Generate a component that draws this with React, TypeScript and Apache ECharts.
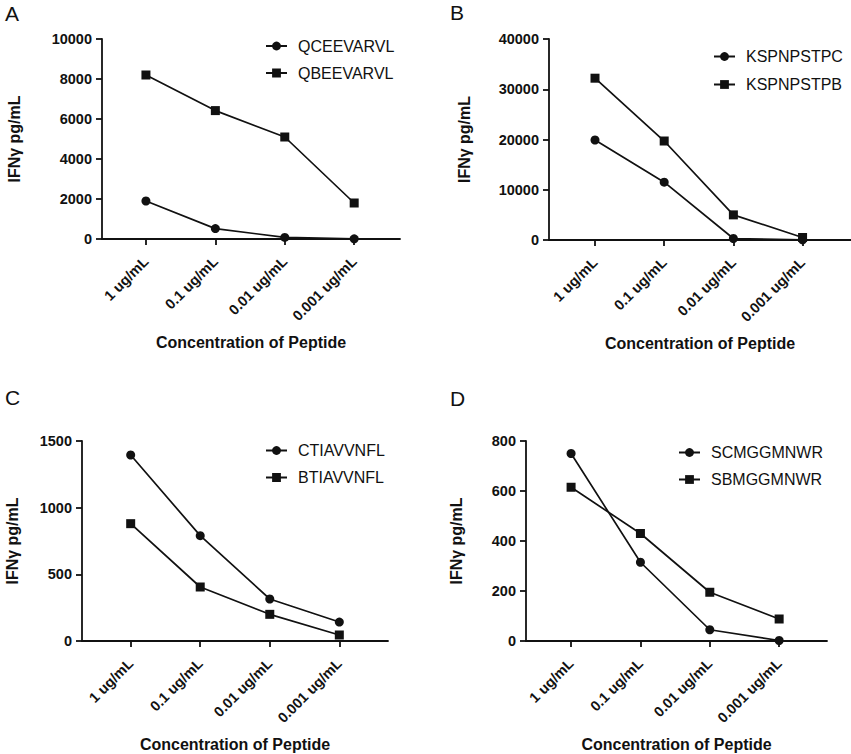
import React, { useEffect, useRef } from "react";
import * as echarts from "echarts";

const concentrations = ["1 ug/mL", "0.1 ug/mL", "0.01 ug/mL", "0.001 ug/mL"];

const namesA = ["QCEEVARVL", "QBEEVARVL"];
const circleA = [1900, 520, 80, 10];
const squareA = [8200, 6420, 5100, 1800];

const namesB = ["KSPNPSTPC", "KSPNPSTPB"];
const circleB = [19900, 11500, 300, 50];
const squareB = [32200, 19700, 5000, 500];

const namesC = ["CTIAVVNFL", "BTIAVVNFL"];
const circleC = [1395, 790, 315, 142];
const squareC = [880, 405, 200, 45];

const namesD = ["SCMGGMNWR", "SBMGGMNWR"];
const circleD = [750, 315, 45, 2];
const squareD = [615, 430, 195, 88];

const yMaxes = [10000, 40000, 1500, 800];
const yIntervals = [2000, 10000, 500, 200];
const panelLetters = ["A", "B", "C", "D"];

const yName = "IFNγ pg/mL";
const xName = "Concentration of Peptide";

const FONT = "'Liberation Sans', Arial, Helvetica, sans-serif";
const INK = "#111111";

export default function App() {
  const ref = useRef<HTMLDivElement>(null);

  useEffect(() => {
    if (!ref.current) return;
    const chart = echarts.init(ref.current, null, { renderer: "svg" });

    const panels = [
      { names: namesA, circle: circleA, square: squareA, grid: { left: 102, top: 39, width: 298, height: 200 }, xMin: -0.633, xMax: 3.66, yGap: 80, legend: { left: 265, top: 37, gap: 9 }, letter: { left: 5, top: 3 } },
      { names: namesB, circle: circleB, square: squareB, grid: { left: 549, top: 39, width: 302, height: 201 }, xMin: -0.665, xMax: 3.7, yGap: 77, legend: { left: 713, top: 47.5, gap: 10 }, letter: { left: 450, top: 2 } },
      { names: namesC, circle: circleC, square: squareC, grid: { left: 82, top: 441, width: 306, height: 200 }, xMin: -0.7, xMax: 3.7, yGap: 62, legend: { left: 265, top: 441.5, gap: 9 }, letter: { left: 5, top: 387 } },
      { names: namesD, circle: circleD, square: squareD, grid: { left: 526, top: 441, width: 301, height: 200 }, xMin: -0.65, xMax: 3.69, yGap: 62, legend: { left: 678, top: 443.5, gap: 9 }, letter: { left: 450, top: 388 } },
    ];

    const idx = concentrations.map((_, i) => i);

    const option: any = {
      animation: false,
      backgroundColor: "#ffffff",
      textStyle: { fontFamily: FONT },
      title: panels.map((p, i) => ({
        text: panelLetters[i],
        left: p.letter.left,
        top: p.letter.top,
        padding: 0,
        textStyle: { fontFamily: FONT, fontSize: 21, fontWeight: "normal", color: INK },
      })),
      grid: panels.map((p) => ({ ...p.grid, containLabel: false })),
      legend: panels.map((p) => ({
        data: p.names,
        orient: "vertical",
        left: p.legend.left,
        top: p.legend.top,
        padding: 0,
        itemGap: p.legend.gap,
        itemWidth: 21,
        itemHeight: 11,
        selectedMode: false,
        textStyle: { fontFamily: FONT, fontSize: 16, color: INK, lineHeight: 18, padding: [0, 0, 0, 6] },
      })),
      xAxis: panels.map((p, i) => ({
        type: "value",
        gridIndex: i,
        min: p.xMin,
        max: p.xMax,
        name: xName,
        nameLocation: "middle",
        nameGap: 95,
        nameTextStyle: { fontFamily: FONT, fontSize: 16, fontWeight: "bold", color: INK },
        splitLine: { show: false },
        axisLine: { show: true, lineStyle: { color: INK, width: 1.8 } },
        axisTick: { show: true, length: 6, customValues: idx, lineStyle: { color: INK, width: 1.8 } },
        axisLabel: {
          customValues: idx,
          rotate: 45,
          margin: 20,
          fontFamily: FONT,
          fontSize: 14.5,
          fontWeight: "bold",
          color: INK,
          formatter: (v: number) => concentrations[Math.round(v)] ?? "",
        },
      })),
      yAxis: panels.map((p, i) => ({
        type: "value",
        gridIndex: i,
        min: 0,
        max: yMaxes[i],
        interval: yIntervals[i],
        name: yName,
        nameLocation: "middle",
        nameGap: p.yGap,
        nameTextStyle: { fontFamily: FONT, fontSize: 16, fontWeight: "bold", color: INK },
        splitLine: { show: false },
        axisLine: { show: true, onZero: false, lineStyle: { color: INK, width: 1.8 } },
        axisTick: { show: true, length: 6, lineStyle: { color: INK, width: 1.8 } },
        axisLabel: {
          margin: 10,
          fontFamily: FONT,
          fontSize: 14.5,
          fontWeight: "bold",
          color: INK,
          formatter: (v: number) => String(v),
        },
      })),
      series: panels.flatMap((p, i) => [
        {
          type: "line",
          name: p.names[0],
          xAxisIndex: i,
          yAxisIndex: i,
          symbol: "circle",
          symbolSize: 9,
          lineStyle: { color: INK, width: 1.7 },
          itemStyle: { color: INK },
          data: p.circle.map((v, k) => [k, v]),
        },
        {
          type: "line",
          name: p.names[1],
          xAxisIndex: i,
          yAxisIndex: i,
          symbol: "rect",
          symbolSize: 9,
          lineStyle: { color: INK, width: 1.7 },
          itemStyle: { color: INK },
          data: p.square.map((v, k) => [k, v]),
        },
      ]),
    };

    chart.setOption(option);
    return () => chart.dispose();
  }, []);

  return <div ref={ref} style={{ width: 851, height: 754, position: "absolute", left: 0, top: 0 }} />;
}
